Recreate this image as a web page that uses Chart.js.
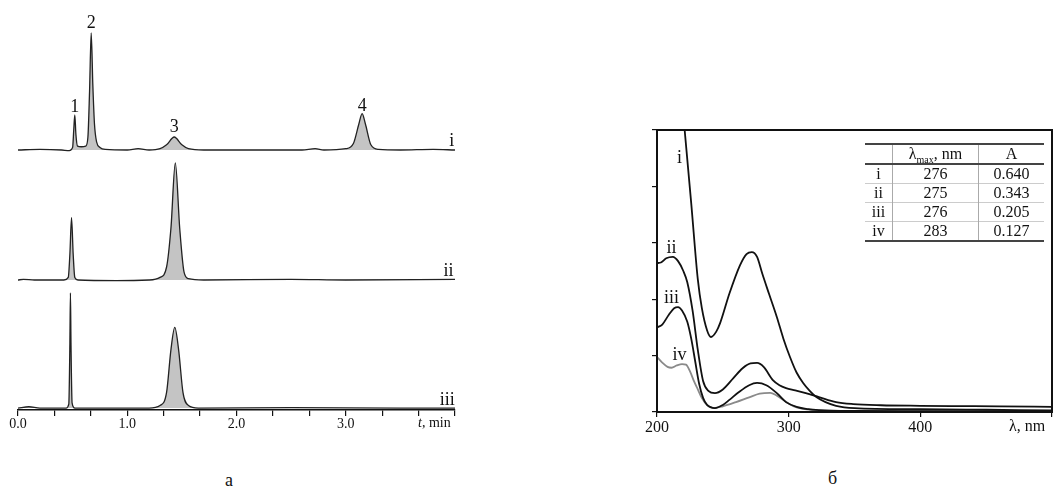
<!DOCTYPE html>
<html>
<head>
<meta charset="utf-8">
<script src="https://cdn.jsdelivr.net/npm/chart.js@4.4.1/dist/chart.umd.min.js"></script>
<style>
  body { margin: 0; background: #fff; font-family: "Liberation Serif", serif; color: #111; }
  #wrap { position: relative; width: 1055px; height: 497px; overflow: hidden; }
  #chromBox { position: absolute; left: 0; top: 0; }
  #specBox { position: absolute; left: 620px; top: 100px; }
  .panel-tag { position: absolute; font-size: 18px; }
  #specTable { position: absolute; left: 865px; top: 143px; border-collapse: collapse; font-size: 16px; }
  #specTable th, #specTable td { text-align: center; padding: 0; height: 18px; font-weight: normal; line-height: 18px; }
  #specTable tr > * + * { border-left: 1px solid #aaa; }
  #specTable thead tr { border-top: 2px solid #444; border-bottom: 2px solid #444; }
  #specTable tbody tr { border-bottom: 1px solid #ccc; }
  #specTable tbody tr:last-child { border-bottom: 2px solid #444; }
  sub { font-size: 10px; line-height: 0; }
</style>
</head>
<body>
<div id="wrap">
  <div id="chromBox"><canvas id="chromChart" width="475" height="440"></canvas></div>
  <div id="specBox"><canvas id="specChart" width="435" height="340"></canvas></div>
  <table id="specTable">
    <thead><tr><th style="width:27px"></th><th style="width:85px">&lambda;<sub>max</sub>, nm</th><th style="width:65px">A</th></tr></thead>
    <tbody id="specRows"></tbody>
  </table>
  <div class="panel-tag" style="left:225px; top:470px">а</div>
  <div class="panel-tag" style="left:828px; top:468px">б</div>
</div>
<script>
/* Chromatograms (a) */
const chromTimeI = [0, 0.2, 0.4, 0.47, 0.5, 0.51, 0.52, 0.53, 0.545, 0.58, 0.62, 0.64, 0.655, 0.67, 0.685, 0.7, 0.72, 0.75, 0.8, 1.0, 1.1, 1.2, 1.3, 1.36, 1.43, 1.5, 1.56, 1.7, 2.0, 2.6, 2.72, 2.8, 3.0, 3.07, 3.12, 3.15, 3.18, 3.23, 3.3, 3.5, 3.8, 4.0];
const chromSignalI = [0, 0.005, 0, -0.005, 0.02, 0.15, 0.27, 0.12, 0.03, 0.025, 0.03, 0.1, 0.45, 0.9, 0.5, 0.2, 0.06, 0.02, 0.005, 0, 0.01, 0, 0.01, 0.04, 0.1, 0.04, 0.01, 0, 0, 0, 0.01, 0, 0.01, 0.05, 0.2, 0.28, 0.2, 0.04, 0.005, 0, 0.005, 0];

const chromTimeII = [0, 0.05, 0.15, 0.3, 0.42, 0.46, 0.475, 0.49, 0.505, 0.52, 0.55, 0.9, 1.2, 1.3, 1.36, 1.4, 1.44, 1.48, 1.52, 1.56, 1.7, 2.5, 3.0, 4.0];
const chromSignalII = [0, 0.005, 0, 0, 0, 0.02, 0.2, 0.48, 0.2, 0.02, 0, -0.005, 0, 0.02, 0.1, 0.4, 0.9, 0.4, 0.06, 0.01, 0, 0.005, 0, 0.005];

const chromTimeIII = [0, 0.1, 0.2, 0.44, 0.465, 0.475, 0.48, 0.485, 0.495, 0.52, 1.2, 1.3, 1.36, 1.4, 1.435, 1.47, 1.51, 1.56, 1.65, 2.5, 3.5, 4.0];
const chromSignalIII = [0, 0.01, 0, 0, 0.03, 0.5, 0.885, 0.5, 0.04, 0, 0, 0.02, 0.12, 0.45, 0.62, 0.45, 0.12, 0.02, 0, 0.003, 0, 0];

const chromTicks = [0, 1/3, 2/3, 1, 4/3, 5/3, 2, 7/3, 8/3, 3, 10/3, 11/3, 4];
const chromTickLabels = ['0.0', '', '', '1.0', '', '', '2.0', '', '', '3.0', '', '', ''];

// peak numbers and trace names, anchored in data units
const chromNotes = [
  { text: '1', t: 0.52, y: 0.33, axis: 'yI' },
  { text: '2', t: 0.67, y: 0.977, axis: 'yI' },
  { text: '3', t: 1.43, y: 0.177, axis: 'yI' },
  { text: '4', t: 3.15, y: 0.338, axis: 'yI' },
  { text: 'i', t: 3.97, y: 0.07, axis: 'yI' },
  { text: 'ii', t: 3.94, y: 0.07, axis: 'yII' },
  { text: 'iii', t: 3.93, y: 0.06, axis: 'yIII' },
];

/* UV spectra (б) */
const waveI = [219, 221, 226, 231, 234, 238, 241, 245, 248, 255, 263, 268, 272, 276, 280, 285, 291, 296, 301, 306, 311, 316, 321, 328, 336, 350, 400, 450, 500];
const absI = [1.1, 1.0, 0.74, 0.47, 0.37, 0.29, 0.266, 0.285, 0.316, 0.42, 0.52, 0.56, 0.567, 0.55, 0.49, 0.42, 0.337, 0.26, 0.195, 0.14, 0.103, 0.075, 0.053, 0.035, 0.022, 0.014, 0.01, 0.008, 0.006];

const waveII = [200, 203, 207, 212, 216, 220, 223, 227, 231, 235, 239, 244, 250, 258, 265, 271, 276, 281, 288, 293, 298, 305, 313, 323, 336, 349, 370, 400, 424, 460, 500];
const absII = [0.528, 0.53, 0.545, 0.55, 0.535, 0.5, 0.46, 0.36, 0.22, 0.11, 0.075, 0.067, 0.08, 0.12, 0.155, 0.172, 0.174, 0.16, 0.113, 0.095, 0.085, 0.077, 0.067, 0.053, 0.035, 0.028, 0.024, 0.022, 0.021, 0.02, 0.018];

const waveIII = [200, 204, 209, 213, 216, 219, 223, 226, 229, 232, 235, 238, 244, 250, 255, 262, 270, 276, 283, 291, 298, 306, 315, 323, 350, 400, 500];
const absIII = [0.3, 0.31, 0.345, 0.368, 0.372, 0.36, 0.32, 0.26, 0.18, 0.1, 0.05, 0.025, 0.014, 0.025, 0.043, 0.07, 0.095, 0.103, 0.095, 0.067, 0.035, 0.018, 0.01, 0.007, 0.004, 0.003, 0.002];

const waveIV = [200, 204, 208, 211, 215, 219, 222, 225, 228, 231, 234, 238, 243, 250, 260, 270, 278, 286, 291, 296, 300, 304, 310, 318, 340, 400, 500];
const absIV = [0.195, 0.175, 0.16, 0.157, 0.165, 0.17, 0.168, 0.145, 0.11, 0.08, 0.05, 0.025, 0.014, 0.02, 0.035, 0.052, 0.065, 0.068, 0.058, 0.043, 0.03, 0.02, 0.012, 0.007, 0.004, 0.003, 0.003];

const specTicksX = [200, 300, 400, 500];
const specTickLabelsX = ['200', '300', '400', ''];
const specTicksY = [0, 0.2, 0.4, 0.6, 0.8, 1.0];

const specNotes = [
  { text: 'i', x: 217, y: 0.9 },
  { text: 'ii', x: 211, y: 0.58 },
  { text: 'iii', x: 211, y: 0.404 },
  { text: 'iv', x: 217, y: 0.202 },
];

// inset table
const tableNames = ['i', 'ii', 'iii', 'iv'];
const tableLambdaMax = ['276', '275', '276', '283'];
const tableAbs = ['0.640', '0.343', '0.205', '0.127'];

const SERIF = '"Liberation Serif", "DejaVu Serif", serif';
const INK = '#111';

function pairs(xs, ys) { return xs.map((x, i) => ({ x, y: ys[i] })); }

const noteLayer = {
  id: 'noteLayer',
  afterDatasetsDraw(chart, args, opts) {
    const ctx = chart.ctx;
    ctx.save();
    ctx.fillStyle = INK;
    ctx.font = opts.font;
    ctx.textAlign = 'center';
    ctx.textBaseline = 'middle';
    opts.notes.forEach(n => {
      const px = chart.scales.x.getPixelForValue(n.t !== undefined ? n.t : n.x);
      const py = chart.scales[n.axis || 'y'].getPixelForValue(n.y);
      ctx.fillText(n.text, px, py);
    });
    // axis title at the right end of the x axis
    const a = chart.chartArea;
    const t = opts.title;
    ctx.font = t.font;
    ctx.textAlign = 'left';
    let x = a.right + t.dx;
    if (t.italic) {
      ctx.font = 'italic ' + t.font;
      ctx.fillText(t.italic, x, a.bottom + t.dy);
      x += ctx.measureText(t.italic).width;
      ctx.font = t.font;
    }
    ctx.fillText(t.rest, x, a.bottom + t.dy);
    if (opts.frame) {
      ctx.strokeStyle = INK;
      ctx.lineWidth = 2;
      ctx.strokeRect(a.left, a.top, a.right - a.left, a.bottom - a.top);
    }
    ctx.restore();
  }
};

function chromSet(xs, ys, axis) {
  return {
    data: pairs(xs, ys), yAxisID: axis,
    borderColor: '#222', borderWidth: 1.3, backgroundColor: '#c4c4c4',
    fill: 'origin', pointRadius: 0, cubicInterpolationMode: 'monotone'
  };
}

function hiddenY(min, max) { return { type: 'linear', display: false, min, max }; }

new Chart(document.getElementById('chromChart'), {
  type: 'line',
  data: { datasets: [
    chromSet(chromTimeI, chromSignalI, 'yI'),
    chromSet(chromTimeII, chromSignalII, 'yII'),
    chromSet(chromTimeIII, chromSignalIII, 'yIII'),
  ] },
  options: {
    responsive: false, animation: false,
    layout: { padding: { left: 18, right: 20, top: 20, bottom: 0 } },
    plugins: {
      legend: { display: false }, tooltip: { enabled: false },
      noteLayer: { notes: chromNotes, font: '18px ' + SERIF,
        title: { italic: 't', rest: ', min', font: '14px ' + SERIF, dx: -37, dy: 13 } }
    },
    scales: {
      x: {
        type: 'linear', min: 0, max: 4,
        afterBuildTicks: s => { s.ticks = chromTicks.map(v => ({ value: v })); },
        afterFit: s => { s.height = 30; },
        ticks: { autoSkip: false, maxRotation: 0, padding: 0, color: INK, font: { family: SERIF, size: 14 },
          callback: (v, i) => chromTickLabels[i] },
        grid: { drawOnChartArea: false, tickLength: 6, color: INK, lineWidth: 1.2 },
        border: { color: INK, width: 1.5 }
      },
      yI: hiddenY(-2, 1),
      yII: hiddenY(-1, 2),
      yIII: hiddenY(-0.015, 2.985),
    }
  },
  plugins: [noteLayer]
});

function specSet(xs, ys, color) {
  return { data: pairs(xs, ys), borderColor: color, borderWidth: 1.8, pointRadius: 0, fill: false, cubicInterpolationMode: 'monotone' };
}

new Chart(document.getElementById('specChart'), {
  type: 'line',
  data: { datasets: [
    specSet(waveI, absI, '#111'),
    specSet(waveII, absII, '#111'),
    specSet(waveIII, absIII, '#111'),
    specSet(waveIV, absIV, '#8a8a8a'),
  ] },
  options: {
    responsive: false, animation: false,
    layout: { padding: { left: 29, right: 3, top: 30, bottom: 0 } },
    plugins: {
      legend: { display: false }, tooltip: { enabled: false },
      noteLayer: { notes: specNotes, font: '18px ' + SERIF, frame: true,
        title: { rest: 'λ, nm', font: '16px ' + SERIF, dx: -43, dy: 15 } }
    },
    scales: {
      x: {
        type: 'linear', min: 200, max: 500,
        afterBuildTicks: s => { s.ticks = specTicksX.map(v => ({ value: v })); },
        afterFit: s => { s.height = 28; },
        ticks: { autoSkip: false, maxRotation: 0, padding: 1, color: INK, font: { family: SERIF, size: 16 },
          callback: (v, i) => specTickLabelsX[i] },
        grid: { drawOnChartArea: false, tickLength: 5, color: INK, lineWidth: 1.2 },
        border: { display: false }
      },
      y: {
        type: 'linear', min: 0, max: 1,
        afterBuildTicks: s => { s.ticks = specTicksY.map(v => ({ value: v })); },
        afterFit: s => { s.width = 8; },
        ticks: { display: false },
        grid: { drawOnChartArea: false, tickLength: 5, color: INK, lineWidth: 1.2 },
        border: { display: false }
      }
    }
  },
  plugins: [noteLayer]
});

document.getElementById('specRows').innerHTML = tableNames.map((n, i) =>
  `<tr><td>${n}</td><td>${tableLambdaMax[i]}</td><td>${tableAbs[i]}</td></tr>`).join('');
</script>
</body>
</html>
